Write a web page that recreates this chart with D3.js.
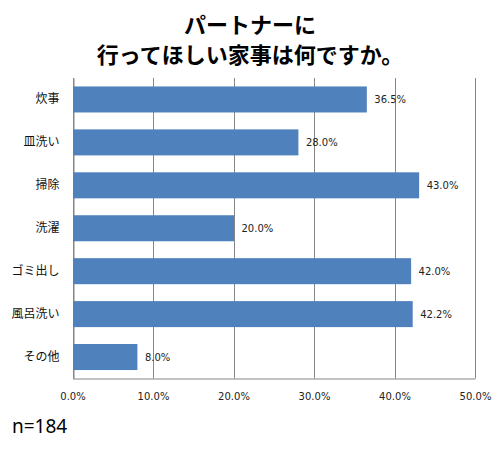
<!DOCTYPE html>
<html>
<head>
<meta charset="utf-8">
<script src="https://d3js.org/d3.v7.min.js"></script>
<style>
  body { margin: 0; background: #fff; }
  text { font-family: "Noto Sans CJK JP", "Noto Sans", sans-serif; }
</style>
</head>
<body>
<script>
    var categories = ["炊事", "皿洗い", "掃除", "洗濯", "ゴミ出し", "風呂洗い", "その他"];
    var values = [36.5, 28.0, 43.0, 20.0, 42.0, 42.2, 8.0];
    var ticks = [0, 10, 20, 30, 40, 50];
    var titleLines = ["パートナーに", "行ってほしい家事は何ですか。"];
    var note = "n=184";

    var width = 503, height = 449;
    var plotLeft = 72.5, plotRight = 475, plotTop = 78, plotBottom = 378.5;

    var svg = d3.select("body").append("svg")
        .attr("width", width)
        .attr("height", height);

    var x = d3.scaleLinear().domain([0, 50]).range([plotLeft, plotRight]);
    var y = d3.scaleBand().domain(categories).range([plotTop, plotBottom])
        .paddingInner(0.394).paddingOuter(0.197);

    // gridlines
    svg.selectAll("line.grid")
        .data(ticks)
        .enter().append("line")
        .attr("class", "grid")
        .attr("x1", function(d) { return Math.round(x(d)) + 0.5; })
        .attr("x2", function(d) { return Math.round(x(d)) + 0.5; })
        .attr("y1", plotTop)
        .attr("y2", plotBottom)
        .style("stroke", "#868686")
        .style("stroke-width", 1);

    // bottom axis
    var xAxis = svg.append("g")
        .attr("transform", "translate(0," + plotBottom + ")")
        .call(d3.axisBottom(x).tickValues(ticks).tickSize(0).tickPadding(14)
            .tickFormat(function(d) { return d.toFixed(1) + "%"; }));
    xAxis.select(".domain").style("stroke", "#868686");
    xAxis.selectAll("text")
        .style("font-size", "10px")
        .style("font-family", "Verdana, 'DejaVu Sans', sans-serif")
        .style("fill", "#222");

    // left axis
    var yAxis = svg.append("g")
        .attr("transform", "translate(" + (Math.round(plotLeft) + 0.5) + ",0)")
        .call(d3.axisLeft(y).tickSize(0).tickPadding(14));
    yAxis.select(".domain").style("stroke", "#868686");
    yAxis.selectAll("text")
        .style("font-size", "12px")
        .style("fill", "#111");

    // bars
    svg.selectAll("rect.bar")
        .data(values)
        .enter().append("rect")
        .attr("class", "bar")
        .attr("x", x(0) + 0.5)
        .attr("y", function(d, i) { return y(categories[i]); })
        .attr("width", function(d) { return x(d) - x(0); })
        .attr("height", y.bandwidth())
        .style("fill", "#4F81BD");

    // value labels
    svg.selectAll("text.val")
        .data(values)
        .enter().append("text")
        .attr("class", "val")
        .attr("x", function(d) { return x(d) + 8; })
        .attr("y", function(d, i) { return y(categories[i]) + y.bandwidth() / 2; })
        .attr("dy", "0.35em")
        .style("font-size", "10px")
        .style("font-family", "Verdana, 'DejaVu Sans', sans-serif")
        .style("fill", "#222")
        .text(function(d) { return d.toFixed(1) + "%"; });

    // title
    svg.selectAll("text.title")
        .data(titleLines)
        .enter().append("text")
        .attr("class", "title")
        .attr("x", 250)
        .attr("y", function(d, i) { return 33 + i * 30; })
        .attr("text-anchor", "middle")
        .style("font-size", "22px")
        .style("font-weight", "bold")
        .style("fill", "#000")
        .text(function(d) { return d; });

    svg.append("text")
        .attr("x", 12)
        .attr("y", 433)
        .style("font-size", "19px")
        .style("font-family", "'Noto Sans', sans-serif")
        .style("fill", "#000")
        .text(note);
</script>
</body>
</html>
